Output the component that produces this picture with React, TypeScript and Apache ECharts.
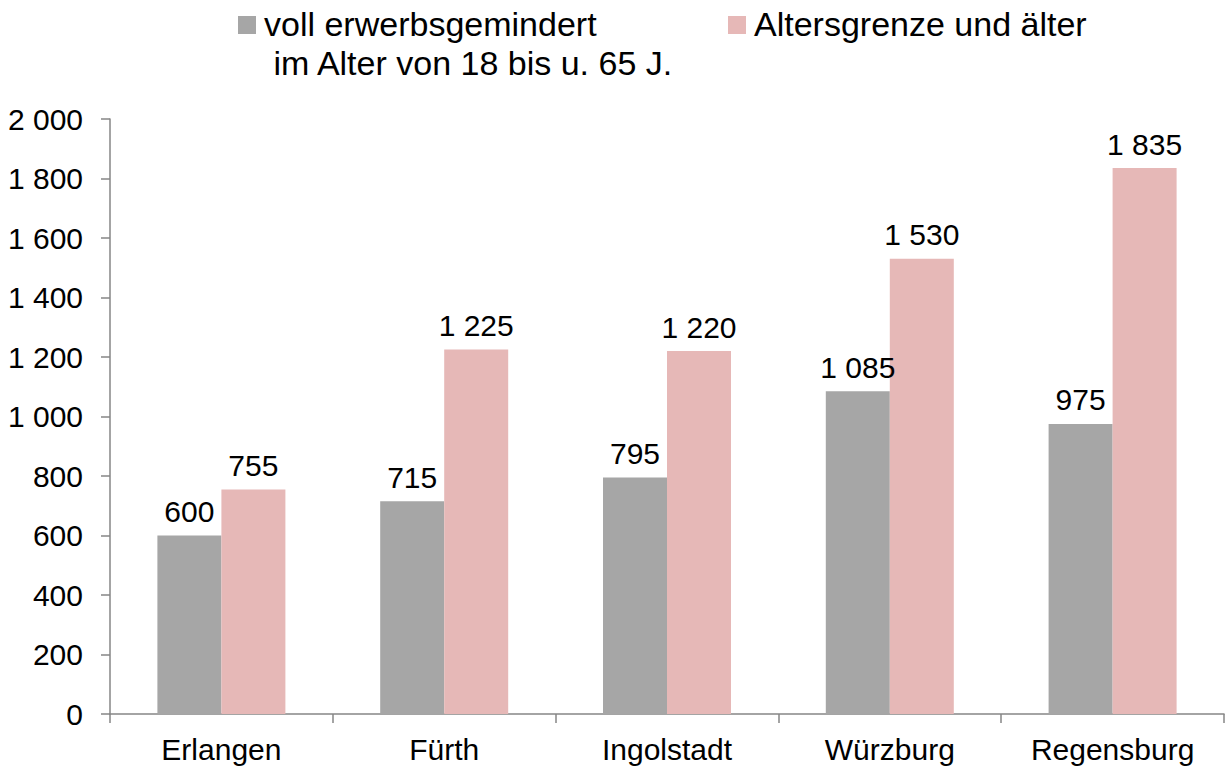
import React, { useEffect, useRef } from "react";
import * as echarts from "echarts";

const categories = ["Erlangen", "Fürth", "Ingolstadt", "Würzburg", "Regensburg"];
const seriesNames = ["voll erwerbsgemindert\n\u00A0im Alter von 18 bis u. 65 J.", "Altersgrenze und älter"];
const vollErwerbsgemindert = [600, 715, 795, 1085, 975];
const altersgrenze = [755, 1225, 1220, 1530, 1835];
const yTicks = { min: 0, max: 2000, interval: 200 };
const colors = ["#a6a6a6", "#e6b8b7"];

const FONT = "'Liberation Sans', Arial, sans-serif";
const fmt = (n: number) => String(n).replace(/\B(?=(\d{3})+(?!\d))/g, " ");

export default function App() {
  const ref = useRef<HTMLDivElement>(null);
  useEffect(() => {
    if (!ref.current) return;
    const chart = echarts.init(ref.current, undefined, { renderer: "svg" });
    const axisColor = "#868686";
    const labelCfg = {
      show: true,
      position: "top",
      distance: 9,
      color: "#000",
      fontSize: 30,
      fontFamily: FONT,
      formatter: (p: any) => fmt(p.value),
    };
    chart.setOption({
      animation: false,
      backgroundColor: "#ffffff",
      textStyle: { fontFamily: FONT },
      graphic: [
        { type: "rect", shape: { x: 238, y: 16, width: 18, height: 18 }, style: { fill: colors[0] } },
        {
          type: "text",
          x: 264,
          y: 4,
          style: {
            text: seriesNames[0],
            fontFamily: FONT,
            fontSize: 34,
            lineHeight: 39,
            fill: "#000",
            verticalAlign: "top",
            align: "left",
          },
        },
        { type: "rect", shape: { x: 728, y: 16, width: 18, height: 18 }, style: { fill: colors[1] } },
        {
          type: "text",
          x: 754,
          y: 4,
          style: {
            text: seriesNames[1],
            fontFamily: FONT,
            fontSize: 34,
            lineHeight: 39,
            fill: "#000",
            verticalAlign: "top",
            align: "left",
          },
        },
      ],
      grid: { left: 110, right: 1, top: 119, bottom: 53, containLabel: false },
      xAxis: {
        type: "category",
        data: categories,
        boundaryGap: true,
        axisLine: { show: true, lineStyle: { color: axisColor, width: 1.5 } },
        axisTick: { show: true, length: 9, alignWithLabel: false, lineStyle: { color: axisColor, width: 1.5 } },
        axisLabel: { color: "#000", fontSize: 30, fontFamily: FONT, margin: 20 },
        splitLine: { show: false },
      },
      yAxis: {
        type: "value",
        min: yTicks.min,
        max: yTicks.max,
        interval: yTicks.interval,
        axisLine: { show: true, lineStyle: { color: axisColor, width: 1.5 } },
        axisTick: { show: true, length: 9, lineStyle: { color: axisColor, width: 1.5 } },
        axisLabel: { color: "#000", fontSize: 30, fontFamily: FONT, margin: 27, formatter: (v: number) => fmt(v) },
        splitLine: { show: false },
      },
      series: [
        {
          name: seriesNames[0],
          type: "bar",
          data: vollErwerbsgemindert,
          barWidth: 64,
          barGap: "0%",
          itemStyle: { color: colors[0] },
          label: labelCfg,
        },
        {
          name: seriesNames[1],
          type: "bar",
          data: altersgrenze,
          barWidth: 64,
          barGap: "0%",
          itemStyle: { color: colors[1] },
          label: labelCfg,
        },
      ],
    });
    return () => chart.dispose();
  }, []);
  return (
    <div
      ref={ref}
      style={{ position: "fixed", left: 0, top: 0, width: 1225, height: 767, background: "#fff" }}
    />
  );
}
